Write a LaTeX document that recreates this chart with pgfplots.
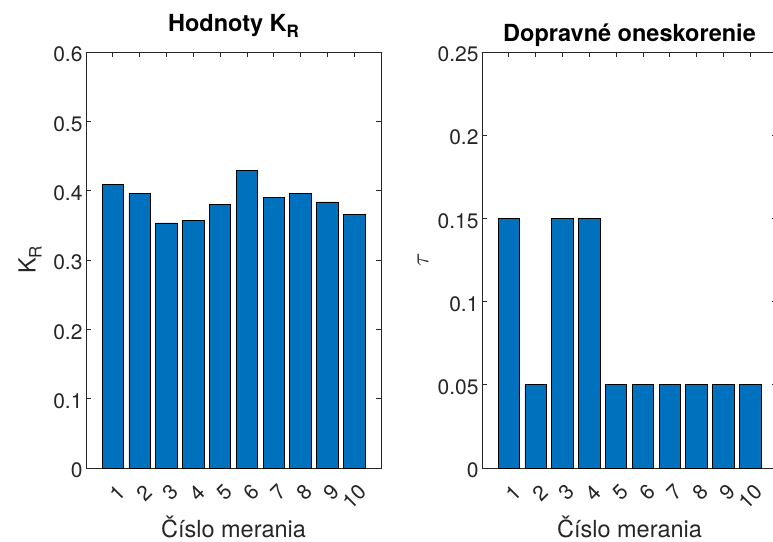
\documentclass[border=0pt]{standalone}
\usepackage{fontspec}
\setmainfont{TeX Gyre Heros}
\usepackage{pgfplots}
\pgfplotsset{compat=1.18}
\definecolor{mblue}{rgb}{0,0.447,0.741}
\definecolor{axc}{rgb}{0.15,0.15,0.15}
\pgfplotsset{
  every axis title shift=0pt,
  mystyle/.style={
    scale only axis, width=295pt, height=416pt, anchor=south west,
    xmin=0, xmax=11, ymin=0,
    xtick={1,2,3,4,5,6,7,8,9,10},
    xticklabels={1,2,3,4,5,6,7,8,9,10},
    tick align=inside, major tick length=5pt,
    axis line style={draw=axc, line width=0.7pt},
    every tick/.style={draw=axc, line width=0.7pt},
    ticklabel style={font=\fontsize{21}{21}\selectfont, text=axc},
    xticklabel style={xshift=11pt, yshift=-18pt, rotate=45, anchor=east},
    yticklabel style={anchor=east, yshift=-2.5pt},
    label style={font=\fontsize{23.5}{24}\selectfont, text=axc},
    xlabel style={at={(axis description cs:0.5,-0.166)}, anchor=base},
    title style={font=\fontsize{23.5}{24}\selectfont\bfseries, at={(axis description cs:0.5,1)}, anchor=base},
  }
}
\begin{document}
\begin{tikzpicture}
\begin{axis}[mystyle, at={(86pt,73pt)},
  ymax=0.6,
  ytick={0,0.1,0.2,0.3,0.4,0.5,0.6},
  yticklabels={0,0.1,0.2,0.3,0.4,0.5,0.6},
  xlabel={Číslo merania},
  ylabel={K{\fontsize{17}{17}\selectfont\raisebox{-6pt}{R}}},
  ylabel style={at={(axis description cs:-0.19,0.5)}, anchor=center},
  title={Hodnoty K{\fontsize{17}{17}\selectfont\raisebox{-6pt}{R}}},
  title style={yshift=20.5pt},
]
\addplot[ybar, bar width=0.8, fill=mblue, draw=black, line width=0.8pt]
  coordinates {(1,0.4086) (2,0.3966) (3,0.3534) (4,0.3567) (5,0.3803)
               (6,0.4298) (7,0.3900) (8,0.3957) (9,0.3837) (10,0.3654)};
\end{axis}
\begin{axis}[mystyle, at={(482pt,73pt)},
  ymax=0.25,
  ytick={0,0.05,0.1,0.15,0.2,0.25},
  yticklabels={0,0.05,0.1,0.15,0.2,0.25},
  xlabel={Číslo merania},
  ylabel={$\tau$},
  ylabel style={at={(axis description cs:-0.2,0.5)}, anchor=center},
  title={Dopravné oneskorenie},
  title style={yshift=10pt},
]
\addplot[ybar, bar width=0.8, fill=mblue, draw=black, line width=0.8pt]
  coordinates {(1,0.15) (2,0.05) (3,0.15) (4,0.15) (5,0.05)
               (6,0.05) (7,0.05) (8,0.05) (9,0.05) (10,0.05)};
\end{axis}
\pgfresetboundingbox
\path[use as bounding box] (0pt,0pt) rectangle (773pt,541pt);
\end{tikzpicture}
\end{document}
